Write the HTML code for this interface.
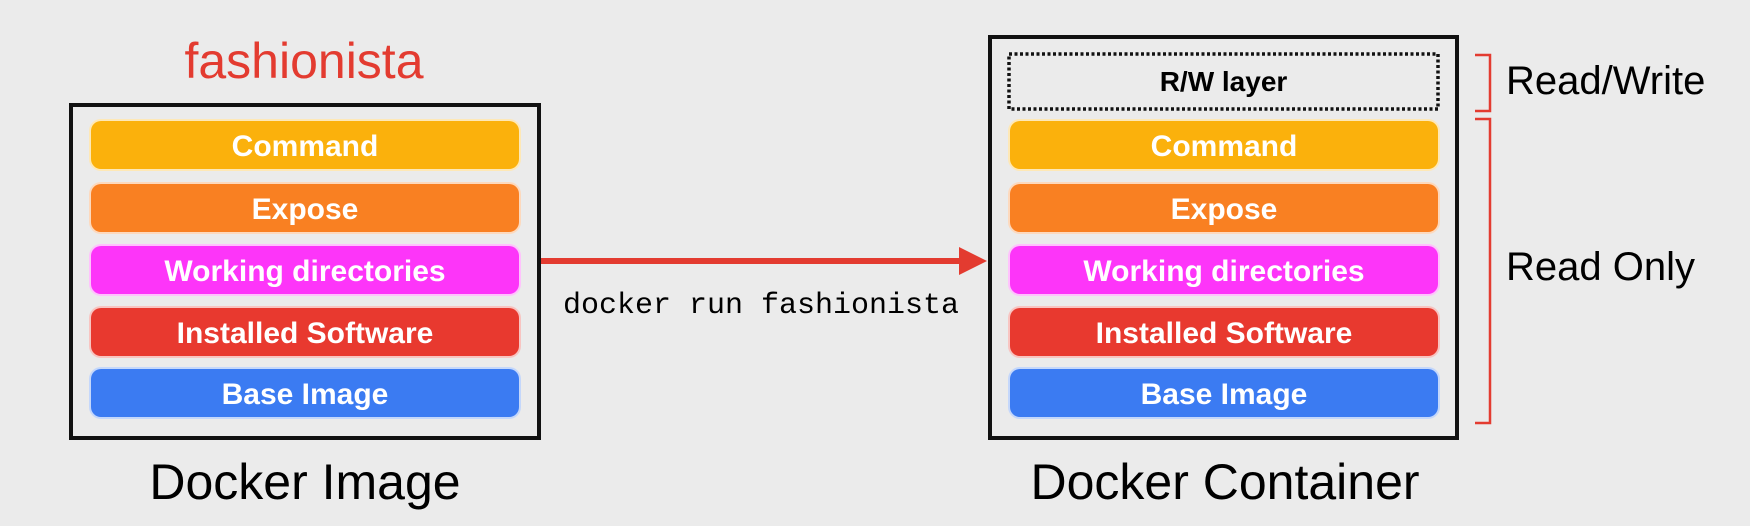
<!DOCTYPE html>
<html><head><meta charset="utf-8"><style>
body{margin:0;width:1750px;height:526px;background:#ebebeb;position:relative;overflow:hidden;font-family:"Liberation Sans",sans-serif}
.a{position:absolute}
.box{position:absolute;border:4px solid #111;box-sizing:border-box}
.l{position:absolute;height:52px;border-radius:12px;color:#fff;font-size:30px;font-weight:bold;text-align:center;line-height:52px;box-sizing:border-box;border:2px solid rgba(255,255,255,0.7)}
.t{position:absolute;text-align:center;white-space:nowrap}
</style></head><body>
<div class="t" style="left:104px;width:400px;top:32px;font-size:50px;color:#e33b30;line-height:58px">fashionista</div>
<div class="box" style="left:69px;top:103px;width:472px;height:337px"></div>
<div class="l" style="left:89px;width:432px;top:119px;background:#fbb10c">Command</div>
<div class="l" style="left:89px;width:432px;top:182px;background:#f98022">Expose</div>
<div class="l" style="left:89px;width:432px;top:244px;background:#fd35f9">Working directories</div>
<div class="l" style="left:89px;width:432px;top:306px;background:#e8392f">Installed Software</div>
<div class="l" style="left:89px;width:432px;top:367px;background:#3b7bf2">Base Image</div>
<div class="t" style="left:90px;width:430px;top:452px;font-size:50px;line-height:60px;color:#000">Docker Image</div>

<svg class="a" style="left:0;top:0" width="1750" height="526">
<line x1="541" y1="261" x2="962" y2="261" stroke="#e33b30" stroke-width="6"/>
<polygon points="959,247 987,261 959,275" fill="#e33b30"/>
<path d="M1475,55 H1490 V111 H1475" fill="none" stroke="#e33b30" stroke-width="2.5"/>
<path d="M1475,119 H1490 V423 H1475" fill="none" stroke="#e33b30" stroke-width="2.5"/>
<rect x="1009" y="54" width="429" height="55" fill="none" stroke="#111" stroke-width="3.5" stroke-dasharray="3,2.5"/>
</svg>
<div class="t" style="left:563px;top:289px;font-family:'Liberation Mono',monospace;font-size:30px;line-height:34px;color:#000">docker run fashionista</div>

<div class="box" style="left:988px;top:35px;width:471px;height:405px"></div>
<div class="t" style="left:1009px;width:429px;top:60px;font-size:28px;font-weight:bold;line-height:44px;color:#000">R/W layer</div>
<div class="l" style="left:1008px;width:432px;top:119px;background:#fbb10c">Command</div>
<div class="l" style="left:1008px;width:432px;top:182px;background:#f98022">Expose</div>
<div class="l" style="left:1008px;width:432px;top:244px;background:#fd35f9">Working directories</div>
<div class="l" style="left:1008px;width:432px;top:306px;background:#e8392f">Installed Software</div>
<div class="l" style="left:1008px;width:432px;top:367px;background:#3b7bf2">Base Image</div>
<div class="t" style="left:1010px;width:430px;top:452px;font-size:50px;line-height:60px;color:#000">Docker Container</div>
<div class="t" style="left:1506px;top:57px;font-size:40px;line-height:48px;color:#000;text-align:left">Read/Write</div>
<div class="t" style="left:1506px;top:243px;font-size:40px;line-height:48px;color:#000;text-align:left">Read Only</div>
</body></html>
